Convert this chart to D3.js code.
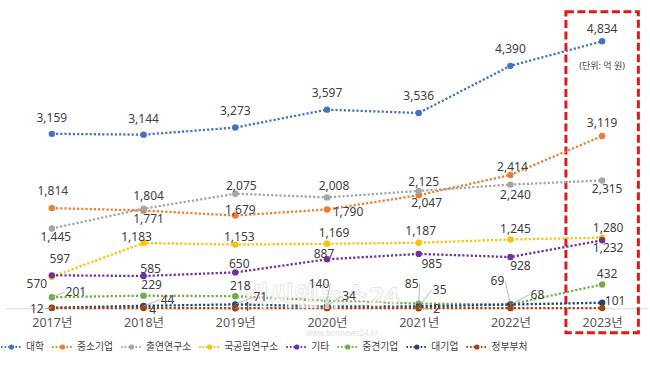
<!DOCTYPE html>
<html>
<head>
<meta charset="utf-8">
<script src="https://cdn.jsdelivr.net/npm/d3@7"></script>
<style>
  body { margin: 0; background: #fff; }
  svg { display: block; font-family: "Noto Sans", "Noto Sans CJK KR", sans-serif; }
</style>
</head>
<body>
<div id="chart"></div>
<script>
// data (억 원)
const years = ["2017", "2018", "2019", "2020", "2021", "2022", "2023"];
const seriesNames = ["대학", "중소기업", "출연연구소", "국공립연구소", "기타", "중견기업", "대기업", "정부부처"];
const university = [3159, 3144, 3273, 3597, 3536, 4390, 4834];
const smallBiz = [1814, 1771, 1679, 1790, 2047, 2414, 3119];
const govInstitute = [1445, 1804, 2075, 2008, 2125, 2240, 2315];
const publicLab = [570, 1183, 1153, 1169, 1187, 1245, 1280];
const others = [597, 585, 650, 887, 985, 928, 1232];
const midSize = [201, 229, 218, 140, 85, 69, 432];
const largeBiz = [12, 44, 71, 34, 35, 68, 101];
const ministry = [5, 4, 1, 3, 2, 3, 4];          // small values, only some labelled
const colors = ["#4472C4", "#ED7D31", "#A5A5A5", "#FFC000", "#7030A0", "#70AD47", "#264478", "#9E480E"];

// label placement per point: [dx, dy, leader line] relative to the dot, null = no label
const labelPos = [
  [[0,-12],[0,-12],[0,-13],[0,-13],[0,-13],[0,-13],[0,-8]],
  [[1,-13],[5,13],[5,-2],[21,7],[8,12],[2,-4],[0,-9]],
  [[4,13],[5,-9],[6,-4],[7,-7],[5,-5],[5,14],[5,13]],
  [[-15,11],[-7,-2],[4,-4],[7,-7],[2,-8],[5,-7],[6,-6]],
  [[8,-12],[7,-3],[4,-4],[-3,-1],[13,14],[10,13],[6,12]],
  [[24,-1,1],[8,-7],[5,-6],[-8,-13,1],[-7,-16,1],[-13,-19,1],[5,-6]],
  [[-15,5,1],[24,-2,1],[25,-3,1],[22,-6,1],[21,-12,1],[27,-6,1],[13,2]],
  [null,[9,6],[12,3,1],null,[18,5,1],null,null]
];

const allSeries = [university, smallBiz, govInstitute, publicLab, others, midSize, largeBiz, ministry];

const svg = d3.select("#chart").append("svg")
    .attr("width", 650)
    .attr("height", 371);

const x = d3.scalePoint().domain(years).range([6, 648]).padding(0.5);
const y = d3.scaleLinear().domain([0, 5000]).range([308.3, 32.15]);

// x axis
const xAxis = svg.append("g")
    .attr("transform", `translate(0,${y(0)})`)
    .call(d3.axisBottom(x).tickSize(0).tickSizeOuter(0).tickPadding(10).tickFormat(d => d + "년"));
xAxis.select(".domain").attr("stroke", "#d9d9d9");
xAxis.selectAll("text").attr("font-size", 12.5).attr("fill", "#595959")
    .attr("font-family", '"Noto Sans", "Noto Sans CJK KR", sans-serif');

// red highlight box round 2023
const step = x.step();
svg.append("rect")
    .attr("x", x("2023") - step * 0.395)
    .attr("y", 11.7)
    .attr("width", step * 0.79)
    .attr("height", 321)
    .attr("fill", "none")
    .attr("stroke", "#dc1c1c")
    .attr("stroke-width", 3)
    .attr("stroke-dasharray", "8,3.5");

svg.append("text")
    .attr("x", x("2023"))
    .attr("y", 69)
    .attr("text-anchor", "middle")
    .attr("font-size", 9)
    .attr("fill", "#404040")
    .text("(단위: 억 원)");

const line = d3.line()
    .x((d, i) => x(years[i]))
    .y(d => y(d));

// series lines + markers
allSeries.forEach((vals, s) => {
  const g = svg.append("g");
  g.append("path")
      .datum(vals)
      .attr("d", line)
      .attr("fill", "none")
      .attr("stroke", colors[s])
      .attr("stroke-width", 2.3)
      .attr("stroke-dasharray", "2.2,2");
  g.selectAll("circle")
      .data(vals)
      .join("circle")
      .attr("cx", (d, i) => x(years[i]))
      .attr("cy", d => y(d))
      .attr("r", 3.2)
      .attr("fill", colors[s]);
});

// watermark of the source site (sits under the data labels)
svg.append("text")
    .attr("x", 322)
    .attr("y", 306)
    .attr("text-anchor", "middle")
    .attr("font-size", 27)
    .attr("font-weight", "bold")
    .attr("fill", "#ffffff")
    .attr("fill-opacity", 0.75)
    .attr("stroke", "#d0d0d0")
    .attr("stroke-width", 0.5)
    .text("비씨엔뉴스24");
svg.append("text")
    .attr("x", 342)
    .attr("y", 336)
    .attr("text-anchor", "middle")
    .attr("font-size", 8)
    .attr("fill", "#e2e2e2")
    .text("www.bcnnews24.kr");

// data labels (on top of all series)
const labels = svg.append("g");
const leaders = labels.append("g");
allSeries.forEach((vals, s) => {
  vals.forEach((v, i) => {
    const p = labelPos[s][i];
    if (!p) return;
    const cx = x(years[i]), cy = y(v);
    const t = labels.append("text")
        .attr("x", cx + p[0])
        .attr("y", cy + p[1])
        .attr("text-anchor", "middle")
        .attr("font-size", 12)
        .attr("fill", "#404040")
        .text(d3.format(",")(v));
    if (p[2]) {
      const w = t.node().getComputedTextLength();
      const side = p[0] >= 0 ? -1 : 1;
      leaders.append("line")
          .attr("x1", cx)
          .attr("y1", cy)
          .attr("x2", cx + p[0] + side * (w / 2 + 1))
          .attr("y2", cy + p[1] - 4)
          .attr("stroke", "#a6a6a6")
          .attr("stroke-width", 0.8);
    }
  });
});

// legend
const legend = svg.append("g").attr("transform", "translate(0,347)");
let lx = 0;
seriesNames.forEach((name, s) => {
  const item = legend.append("g").attr("transform", `translate(${lx},0)`);
  item.append("line")
      .attr("x1", 1).attr("x2", 22)
      .attr("stroke", colors[s])
      .attr("stroke-width", 2)
      .attr("stroke-dasharray", "1.6,2");
  item.append("circle").attr("cx", 11.5).attr("r", 2.6).attr("fill", colors[s]);
  const t = item.append("text")
      .attr("x", 26)
      .attr("dy", "0.35em")
      .attr("font-size", 9.8)
      .attr("fill", "#404040")
      .text(name);
  lx += 26 + t.node().getComputedTextLength() + 7;
});
</script>
</body>
</html>
